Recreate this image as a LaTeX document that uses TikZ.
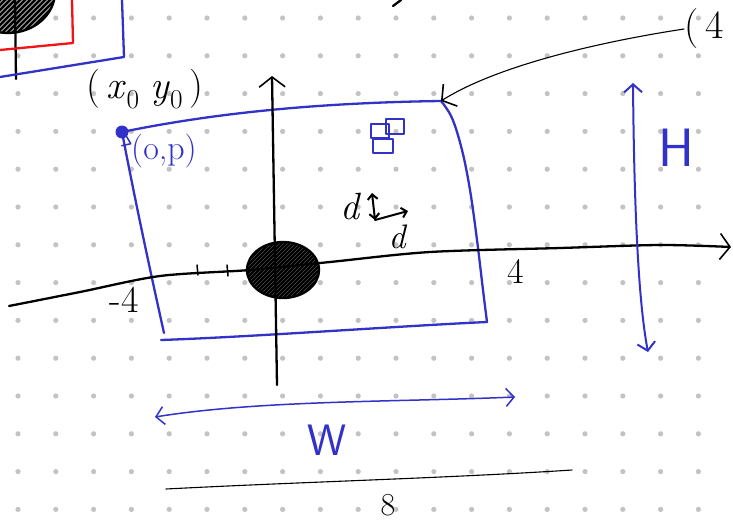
\documentclass[tikz,border=0pt]{standalone}
\usepackage{fontspec}
\usetikzlibrary{arrows.meta}
\definecolor{pen}{RGB}{50,50,200}
\definecolor{dotc}{RGB}{195,195,195}
\definecolor{redpen}{RGB}{240,20,20}
\begin{document}
\begin{tikzpicture}[x=1pt,y=-1pt,
  ink/.style={draw=black,line width=2.3pt,line cap=round,line join=round},
  thinink/.style={draw=black,line width=1.1pt,line cap=round,line join=round},
  bluepen/.style={draw=pen,line width=2.3pt,line cap=round,line join=round},
  bluethin/.style={draw=pen,line width=1.5pt,line cap=round,line join=round},
  barb/.style={-{Straight Barb[length=10pt,width=26pt,line width=1.6pt]}},
  barbs/.style={{Straight Barb[length=8pt,width=18pt]}-{Straight Barb[length=8pt,width=18pt]}},
  smallbarbs/.style={{Straight Barb[length=5pt,width=10pt]}-{Straight Barb[length=5pt,width=10pt]}},
  lbl/.style={inner sep=0pt,font=\fontsize{36}{38}\selectfont},
  bluelbl/.style={lbl,text=pen},
]
\useasboundingbox (0,0) rectangle (733,522);
\fill[white] (0,0) rectangle (733,522);
% dot grid
\foreach \i in {0,...,18}{\foreach \j in {0,...,13}{\fill[dotc] ({18+37.8*\i},{18+37.8*\j}) circle (2.6pt);}}

% partial figure at top left
\begin{scope}
  \clip (0,0) rectangle (80,100);
  \begin{scope}
    \clip (8,-8) ellipse [x radius=47pt, y radius=41pt];
    \foreach \k in {-120,-115,...,120}{\draw[line width=2.6pt] ({8+\k-50},{-8+50}) -- ({8+\k+50},{-8-50});}
  \end{scope}
  \draw[ink] (8,-8) ellipse [x radius=47pt, y radius=41pt];
\end{scope}
\draw[ink] (15,0) -- (16,79);
\draw[draw=redpen,line width=2.3pt,line join=round] (72,0) -- (73,43) -- (0,50);
\draw[bluepen] (122,0) -- (124,57) -- (0,77);
\draw[ink] (393,6) -- (401,0);

% labels near the main box
\node[lbl,font=\fontsize{39}{41}\selectfont] (x0y0) at (145,89) {(\,\textit{x}\textsubscript{0}\;\textit{y}\textsubscript{0}\,)};
\node[bluelbl,font=\fontsize{34}{36}\selectfont] (op) at (164,151) {(o,p)};
\node[lbl,anchor=west,font=\fontsize{40}{42}\selectfont] (four) at (684,29) {(\,4};

% main box
\coordinate (TL) at (122,132);
\coordinate (TR) at (441,101);
\coordinate (BR) at (487,322);
\coordinate (BL) at (163,337);
\draw[bluepen] (TL) .. controls (200,116) and (300,103) .. (TR);
\draw[bluepen] plot[smooth,tension=0.6] coordinates {(TR) (452,118) (462,150) (470,190) (477,240) (483,290) (BR)};
\draw[bluepen] (BR) .. controls (400,326) and (250,337) .. (161,340);
\draw[bluepen] (TL) .. controls (135,200) and (150,270) .. (164,333);
\node[circle,fill=pen,inner sep=0pt,minimum size=13pt] (origin) at (TL) {};
\draw[bluethin] (origin.south east) -- ++(4,7) -- ++(-9,2);

% arrow from (4 to the corner
\draw[thinink,barb] (four.west) .. controls (580,45) and (490,70) .. (TR);

% small squares
\draw[bluepen,line width=1.8pt] (371,124) rectangle (389,138);
\draw[bluepen,line width=1.8pt] (386,119) rectangle (404,134);
\draw[bluepen,line width=1.8pt] (373,139) rectangle (393,153);

% axes
\coordinate (yb) at (277,385);
\coordinate (yt) at (272,76);
\draw[ink,barb] (yb) -- (yt);
\draw[ink,barb] plot[smooth,tension=0.5] coordinates {(9,306) (80,292) (160,276) (250,270) (330,262) (430,252) (560,248) (660,245) (731,247)};
\draw[thinink,line width=1.5pt] (197,265) -- (198,275);
\draw[thinink,line width=1.5pt] (227,265) -- (228,276);
\node[lbl,font=\fontsize{38}{40}\selectfont] (m4) at (124,300) {-4};
\node[lbl,font=\fontsize{36}{38}\selectfont] (p4) at (516,271) {4};

% hatched disc
\coordinate (disc) at (283,270);
\begin{scope}
  \clip (disc) ellipse [x radius=36pt, y radius=28pt];
  \foreach \k in {-80,-76,...,80}{\draw[line width=2.8pt] ({283+\k-40},{270+40}) -- ({283+\k+40},{270-40});}
\end{scope}
\draw[ink] (disc) ellipse [x radius=36pt, y radius=28pt];

% d arrows
\coordinate (dv1) at (372,193);
\coordinate (dv2) at (375,220);
\coordinate (dh) at (408,211);
\draw[ink,line width=2pt,smallbarbs] (dv1) -- (dv2);
\draw[ink,line width=2pt,-{Straight Barb[length=5pt,width=10pt]}] (dv2) -- (dh);
\node[lbl,font=\fontsize{38}{40}\selectfont\itshape] (d1) at (350,207) {d};
\node[lbl,font=\fontsize{34}{36}\selectfont\itshape] (d2) at (397,237) {d};

% H arrow
\coordinate (Ht) at (633,83);
\coordinate (Hb) at (648,352);
\draw[bluepen,line width=2pt,barbs] (Ht) .. controls (634,200) and (638,300) .. (Hb);
\node[bluelbl,font=\fontsize{54}{56}\selectfont\sffamily] (H) at (676,148) {H};

% W arrow
\coordinate (Wl) at (155,417);
\coordinate (Wr) at (515,397);
\draw[bluethin,barbs] (Wl) .. controls (260,400) and (400,402) .. (Wr);
\node[bluelbl,font=\fontsize{44}{46}\selectfont\sffamily] (W) at (327,440) {W};

% bottom line
\coordinate (Ll) at (166,489);
\coordinate (Lr) at (572,470);
\draw[thinink] (Ll) .. controls (300,482) and (450,478) .. (Lr);
\node[lbl,font=\fontsize{32}{34}\selectfont] (eight) at (388,505) {8};
\end{tikzpicture}
\end{document}
